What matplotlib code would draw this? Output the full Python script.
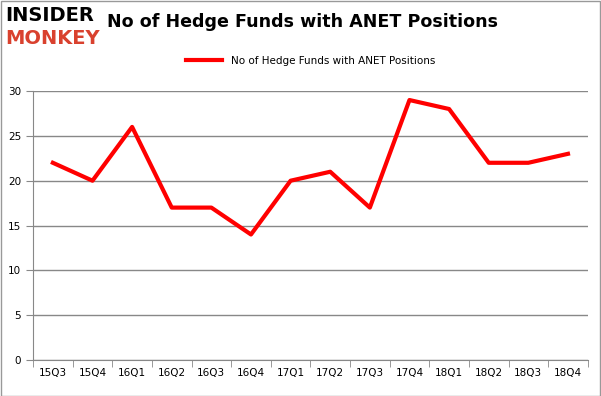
import matplotlib
matplotlib.use('Agg')
import matplotlib.pyplot as plt
from matplotlib.patches import Rectangle

quarters = ['15Q3', '15Q4', '16Q1', '16Q2', '16Q3', '16Q4', '17Q1',
            '17Q2', '17Q3', '17Q4', '18Q1', '18Q2', '18Q3', '18Q4']
funds = [22, 20, 26, 17, 17, 14, 20, 21, 17, 29, 28, 22, 22, 23]
yticks = [0, 5, 10, 15, 20, 25, 30]

plt.rcParams['font.family'] = ['DejaVu Sans']

fig = plt.figure(figsize=(6.01, 3.96), dpi=100)
ax = fig.add_axes([0.055, 0.091, 0.923, 0.679])

x = list(range(len(quarters)))
ax.plot(x, funds, color='#ff0000', linewidth=3, label='No of Hedge Funds with ANET Positions')

ax.set_xlim(-0.5, len(quarters) - 0.5)
ax.set_ylim(0, 30)
ax.set_yticks(yticks)
ax.set_xticks(x)
ax.set_xticklabels(quarters, fontsize=7.5)
ax.set_xticks([i - 0.5 for i in range(len(quarters) + 1)], minor=True)
ax.tick_params(axis='x', which='major', length=0, pad=6)
ax.tick_params(axis='x', which='minor', length=5, color='#888888')
ax.tick_params(axis='y', length=5, color='#888888', labelsize=7.5)
ax.grid(axis='y', color='#888888', linewidth=1)
ax.set_axisbelow(True)
for side in ['top', 'right']:
    ax.spines[side].set_visible(False)
for side in ['left', 'bottom']:
    ax.spines[side].set_color('#888888')

ax.legend(loc='lower center', bbox_to_anchor=(0.5, 1.06), frameon=False,
          fontsize=7.5, handlelength=3.5)

fig.text(0.503, 0.944, 'No of Hedge Funds with ANET Positions', ha='center', va='center',
         fontsize=12.6, fontweight='bold')
fig.text(0.008, 0.962, 'INSIDER', fontsize=14, fontweight='heavy', color='black',
         va='center', ha='left')
fig.text(0.008, 0.902, 'MONKEY', fontsize=14, fontweight='heavy', color='#d9412e',
         va='center', ha='left')

fig.patches.append(Rectangle((0.001, 0.001), 0.997, 0.997, transform=fig.transFigure,
                             fill=False, edgecolor='#999999', linewidth=1))

fig.savefig('out.png', dpi=100)
